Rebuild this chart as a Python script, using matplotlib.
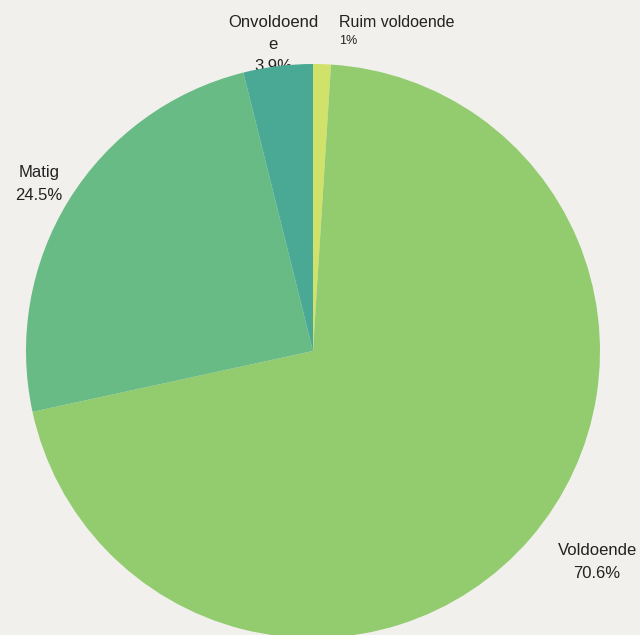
import matplotlib.pyplot as plt
import numpy as np

plt.rcParams['font.family'] = ['Liberation Sans', 'DejaVu Sans']

# Datos del gráfico
categorias = ['Ruim voldoende', 'Voldoende', 'Matig', 'Onvoldoende']
porcentajes = [1.0, 70.6, 24.5, 3.9]
textos_pct = ['1%', '70.6%', '24.5%', '3.9%']
colores = ['#d0e26a', '#93cb6f', '#68bb84', '#4aa994']

fondo = '#f1f0ec'
fig = plt.figure(figsize=(6.4, 6.35), dpi=100, facecolor=fondo)
# centro (313, 351) px, radio 287 px
ax = fig.add_axes([(313 - 287) / 640, (635 - 351 - 287) / 635, 574 / 640, 574 / 635])
ax.set_facecolor(fondo)

wedges, _ = ax.pie(porcentajes, colors=colores, startangle=90, counterclock=False,
                   radius=1.0, wedgeprops=dict(linewidth=0, zorder=3))

# Etiquetas (posiciones en coordenadas de datos)
ax.text(-0.139, 1.068, 'Onvoldoend\ne\n' + textos_pct[3], ha='center', va='center',
        fontsize=12, color='#222222', linespacing=1.62, zorder=1)
ax.text(0.09, 1.146, categorias[0], ha='left', va='center', fontsize=11.5, color='#222222')
ax.text(0.09, 1.08, textos_pct[0], ha='left', va='center', fontsize=9, color='#222222')
ax.text(-0.955, 0.581, categorias[2] + '\n' + textos_pct[2], ha='center', va='center',
        fontsize=12, color='#222222', linespacing=1.7)
ax.text(0.99, -0.735, categorias[1] + '\n' + textos_pct[1], ha='center', va='center',
        fontsize=12, color='#222222', linespacing=1.7)

ax.set_xlim(-1, 1)
ax.set_ylim(-1, 1)
ax.set_aspect('equal')
ax.axis('off')

fig.savefig('out.png', dpi=100, facecolor=fondo)
